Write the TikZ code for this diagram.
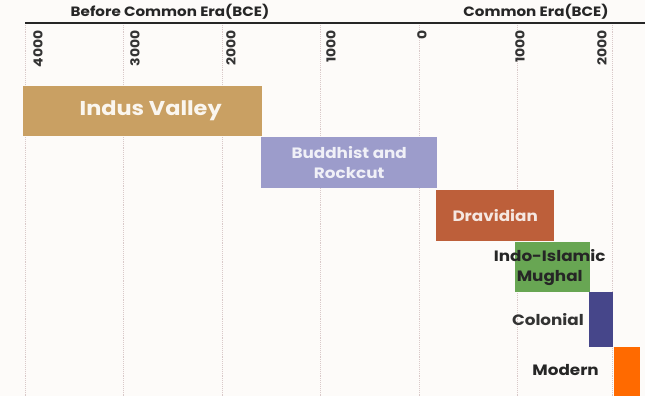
\documentclass[tikz,border=0pt]{standalone}
\usepackage{fontspec}
\setmainfont{Poppins}[FakeStretch=1.12]
\usetikzlibrary{positioning}

\definecolor{paper}{HTML}{FDFBF9}
\definecolor{gridpink}{HTML}{D9C9C9}
\definecolor{indus}{HTML}{C9A063}
\definecolor{buddhist}{HTML}{9C9CCB}
\definecolor{dravidian}{HTML}{BD5F3A}
\definecolor{mughal}{HTML}{68A653}
\definecolor{colonial}{HTML}{46468A}
\definecolor{modern}{HTML}{FF6A00}

\begin{document}
\begin{tikzpicture}[
    x=1pt, y=-1pt,
    era/.style={rectangle, anchor=north west, inner sep=0pt, align=center, font=\bfseries\fontsize{15}{20}\selectfont},
    year/.style={rotate=90, anchor=east, inner sep=0pt, font=\bfseries\fontsize{12.5}{14}\selectfont, text=black!80},
    yearline/.style={gridpink, line width=0.9pt, densely dotted},
    head/.style={font=\bfseries\fontsize{13.5}{15}\selectfont, text=black!85}
]
    \fill[paper] (0,0) rectangle (645,396);
    \useasboundingbox (0,0) rectangle (645,396);

    % year grid and labels
    \foreach \x/\lbl/\lx [count=\i] in {25/4000/38, 123/3000/135, 222/2000/231, 320/1000/331,
                                      419/0/422, 517/1000/520, 612/2000/602} {
        \coordinate (t\i) at (\x,23);
        \coordinate (b\i) at (\x,396);
        \draw[yearline] (t\i) -- (b\i);
        \node[year] (y\i) at (\lx,30) {\lbl};
    }

    % era header
    \coordinate (hl) at (25,23);
    \coordinate (hr) at (645,23);
    \draw[line width=1.8pt, black!85] (hl) -- (hr);
    \node[head] (bce) at (170,12) {Before Common Era(BCE)};
    \node[head] (ce) at (536,12) {Common Era(BCE)};

    % periods
    \node[era, fill=indus, minimum width=239pt, minimum height=50pt, text=white!90!indus,
          font=\bfseries\fontsize{20}{22}\selectfont] (indus) at (23,86) {\hspace*{16pt}Indus Valley};
    \node[era, fill=buddhist, minimum width=176pt, minimum height=51pt, text=white!85!buddhist]
        (buddh) at (261,137) {Buddhist and\\Rockcut};
    \node[era, fill=dravidian, minimum width=118pt, minimum height=51pt, text=white!85!dravidian]
        (drav) at (436,190) {Dravidian};
    \node[era, fill=mughal, minimum width=75pt, minimum height=50pt] (mugh) at (515,242) {};
    \node[era, fill=colonial, minimum width=24pt, minimum height=55pt] (colo) at (589,292) {};
    \node[era, fill=modern, minimum width=26pt, minimum height=49pt] (mod) at (614,347) {};

    % labels that run past their bars
    \node[era, anchor=center, text=black!85, xshift=-3pt] (mughtxt) at (mugh.center) {Indo-Islamic\\Mughal};
    \node[era, anchor=east, text=black!80, left=5pt of colo] (colotxt) {Colonial};
    \node[era, anchor=east, text=black!85, left=15pt of mod, yshift=1.5pt] (modtxt) {Modern};
\end{tikzpicture}
\end{document}
